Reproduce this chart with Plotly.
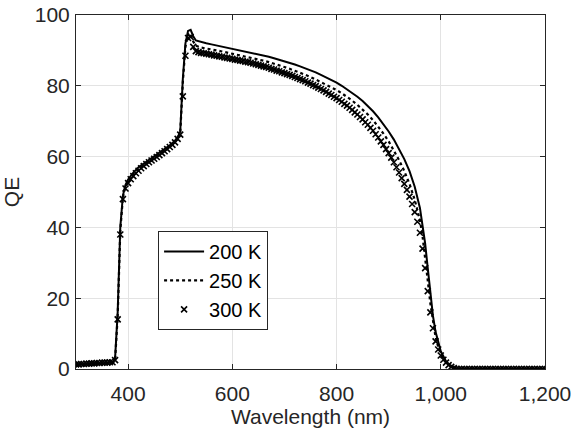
import plotly.graph_objects as go

# wavelength grid for the two line series (nm)
wavelength = [300, 310, 320, 330, 340, 350, 360, 370,
              375, 380, 385, 390, 395, 400,
              410, 420, 430, 440, 450, 460, 470, 480, 490,
              495, 500, 505, 510, 515, 520, 525, 530,
              540, 550, 560, 570, 580, 590, 600, 610, 620, 630, 640, 650, 660, 670,
              680, 690, 700, 710, 720, 730, 740, 750, 760, 770, 780, 790, 800, 810,
              820, 830, 840, 850, 860, 870, 880, 890, 900, 910, 920, 930, 940, 950,
              960, 965, 970, 975, 980, 985, 990, 995, 1000,
              1010, 1020, 1030, 1040, 1050, 1060, 1070, 1080, 1090, 1100,
              1110, 1120, 1130, 1140, 1150, 1160, 1170, 1180, 1190, 1200]

qe_200k = [1.2, 1.3, 1.4, 1.5, 1.6, 1.6, 1.7, 1.8,
           3.0, 16.0, 40.0, 49.0, 52.0, 53.5,
           55.5, 57.0, 58.0, 59.0, 60.0, 61.0, 62.0, 63.2, 64.5,
           65.5, 67.0, 82.0, 92.0, 95.5, 95.8, 94.0, 92.8,
           92.3, 92.0, 91.7, 91.4, 91.1, 90.8, 90.5, 90.2, 89.9, 89.6, 89.3, 89.0, 88.6, 88.2,
           87.8, 87.4, 87.0, 86.5, 86.0, 85.5, 85.0, 84.4, 83.8, 83.1, 82.4, 81.7, 80.9, 80.0,
           79.0, 78.0, 76.9, 75.7, 74.3, 72.8, 71.1, 69.2, 67.1, 64.8, 62.2, 59.3, 55.9, 51.5,
           45.5, 41.0, 35.5, 28.5, 21.0, 15.0, 10.5, 7.5, 5.0,
           2.2, 0.8, 0.1, 0, 0, 0, 0, 0, 0, 0,
           0, 0, 0, 0, 0, 0, 0, 0, 0, 0]

qe_250k = [1.0, 1.1, 1.2, 1.3, 1.4, 1.5, 1.5, 1.6,
           2.5, 15.0, 39.0, 48.5, 51.5, 53.0,
           55.0, 56.5, 57.7, 58.7, 59.7, 60.7, 61.7, 62.9, 64.2,
           65.2, 66.5, 81.0, 91.0, 94.5, 94.8, 92.5, 91.3,
           90.8, 90.6, 90.3, 90.0, 89.7, 89.4, 89.1, 88.8, 88.5, 88.2, 87.9, 87.5, 87.1, 86.7,
           86.3, 85.8, 85.3, 84.8, 84.3, 83.7, 83.1, 82.5, 81.8, 81.1, 80.4, 79.6, 78.8, 77.9,
           76.9, 75.8, 74.6, 73.3, 71.9, 70.3, 68.5, 66.5, 64.3, 61.8, 59.0, 55.9, 52.3, 47.8,
           42.0, 37.5, 32.0, 25.0, 18.5, 13.0, 9.0, 6.3, 4.3,
           1.9, 0.6, 0.1, 0, 0, 0, 0, 0, 0, 0,
           0, 0, 0, 0, 0, 0, 0, 0, 0, 0]

# 300 K measured at a finer 5 nm grid (drawn as markers)
wavelength_300k = [
    300, 305, 310, 315, 320, 325, 330, 335, 340, 345, 350, 355, 360, 365, 370,
    375, 380, 385, 390, 395, 400,
    405, 410, 415, 420, 425, 430, 435, 440, 445, 450, 455, 460, 465, 470, 475, 480, 485, 490, 495,
    500, 505, 510, 515, 520, 525, 530, 535,
    540, 545, 550, 555, 560, 565, 570, 575, 580, 585, 590, 595, 600, 605, 610, 615, 620, 625,
    630, 635, 640, 645, 650, 655, 660, 665, 670, 675, 680, 685, 690, 695, 700, 705, 710, 715,
    720, 725, 730, 735, 740, 745, 750, 755, 760, 765, 770, 775, 780, 785, 790, 795, 800, 805,
    810, 815, 820, 825, 830, 835, 840, 845, 850, 855, 860, 865, 870, 875, 880, 885, 890, 895,
    900, 905, 910, 915, 920, 925, 930, 935, 940, 945, 950, 955,
    960, 965, 970, 975, 980, 985, 990, 995, 1000,
    1005, 1010, 1015, 1020, 1025, 1030, 1035, 1040, 1045, 1050, 1055, 1060, 1065, 1070, 1075,
    1080, 1085, 1090, 1095, 1100, 1105, 1110, 1115, 1120, 1125, 1130, 1135, 1140, 1145, 1150,
    1155, 1160, 1165, 1170, 1175, 1180, 1185, 1190, 1195, 1200]

qe_300k = [
    1.3, 1.3, 1.4, 1.4, 1.5, 1.5, 1.6, 1.6, 1.7, 1.7, 1.8, 1.8, 1.8, 1.9, 1.9,
    2.5, 14.0, 38.0, 48.0, 51.0, 52.5,
    53.6, 54.5, 55.3, 56.0, 56.7, 57.3, 57.9, 58.4, 58.9, 59.4, 59.9, 60.4, 61.0, 61.5, 62.1, 62.7, 63.3, 64.0, 65.0,
    66.2, 77.0, 88.5, 93.5, 93.8, 91.0, 89.8, 89.5,
    89.3, 89.2, 89.1, 88.9, 88.8, 88.6, 88.5, 88.3, 88.2, 88.0, 87.9, 87.7, 87.6, 87.4, 87.3, 87.1, 87.0, 86.8,
    86.7, 86.5, 86.3, 86.1, 85.9, 85.7, 85.5, 85.3, 85.1, 84.8, 84.6, 84.3, 84.1, 83.8, 83.6, 83.3, 83.1, 82.8,
    82.5, 82.2, 81.9, 81.6, 81.3, 80.9, 80.6, 80.2, 79.9, 79.5, 79.1, 78.7, 78.3, 77.8, 77.4, 76.9, 76.5, 76.0,
    75.5, 74.9, 74.4, 73.8, 73.2, 72.5, 71.9, 71.2, 70.5, 69.7, 69.0, 68.1, 67.3, 66.3, 65.4, 64.3, 63.3, 62.1,
    61.0, 59.7, 58.4, 57.0, 55.5, 53.9, 52.3, 50.6, 48.7, 46.6, 44.3, 41.6,
    38.5, 34.0, 28.5, 22.0, 16.0, 11.5, 7.8, 5.5, 3.8,
    2.6, 1.8, 1.1, 0.6, 0.25, 0.05, 0, 0, 0, 0, 0, 0, 0, 0, 0,
    0, 0, 0, 0, 0, 0, 0, 0, 0, 0, 0, 0, 0, 0, 0,
    0, 0, 0, 0, 0, 0, 0, 0, 0, 0]

series_names = ["200 K", "250 K", "300 K"]
x_ticks = [400, 600, 800, 1000, 1200]
y_ticks = [0, 20, 40, 60, 80, 100]

FONT = "Liberation Sans, Arial, sans-serif"
AX = "#262626"
FS = 21

fig = go.Figure()
fig.add_trace(go.Scatter(x=wavelength, y=qe_200k, name=series_names[0], mode="lines",
                         line=dict(color="black", width=2)))
fig.add_trace(go.Scatter(x=wavelength, y=qe_250k, name=series_names[1], mode="lines",
                         line=dict(color="black", width=2.2, dash="dot")))
fig.add_trace(go.Scatter(x=wavelength_300k, y=qe_300k, name=series_names[2], mode="markers",
                         marker=dict(symbol="x-thin", size=6, color="black",
                                     line=dict(color="black", width=1.6))))

axis_common = dict(showline=True, linecolor=AX, linewidth=1, mirror="ticks",
                   ticks="inside", ticklen=5, tickcolor=AX, tickwidth=1,
                   showgrid=True, gridcolor="#e3e3e3", gridwidth=1, zeroline=False,
                   ticklabeloverflow="allow",
                   tickfont=dict(family=FONT, size=FS, color=AX))

fig.update_xaxes(range=[300, 1200], tickvals=x_ticks, tickformat=",d",
                 ticklabelstandoff=6,
                 title=dict(text="Wavelength (nm)", font=dict(family=FONT, size=FS, color=AX),
                            standoff=3),
                 **axis_common)
fig.update_yaxes(range=[0, 100], tickvals=y_ticks,
                 ticklabelstandoff=1,
                 title=dict(text="QE", font=dict(family=FONT, size=FS, color=AX), standoff=13),
                 **axis_common)

fig.update_layout(
    width=578, height=433,
    margin=dict(l=76, r=33, t=15, b=64, autoexpand=False),
    paper_bgcolor="white", plot_bgcolor="white",
    showlegend=True,
    legend=dict(x=0.175, y=0.39, xanchor="left", yanchor="top",
                bgcolor="white", bordercolor=AX, borderwidth=1,
                font=dict(family=FONT, size=20, color="black"),
                tracegroupgap=0, itemwidth=40),
)

# remove the default 8 px page margin so the figure fills the window exactly
fig.write_html("out.html", config={"displayModeBar": False},
               post_script="document.body.style.margin='0';")
